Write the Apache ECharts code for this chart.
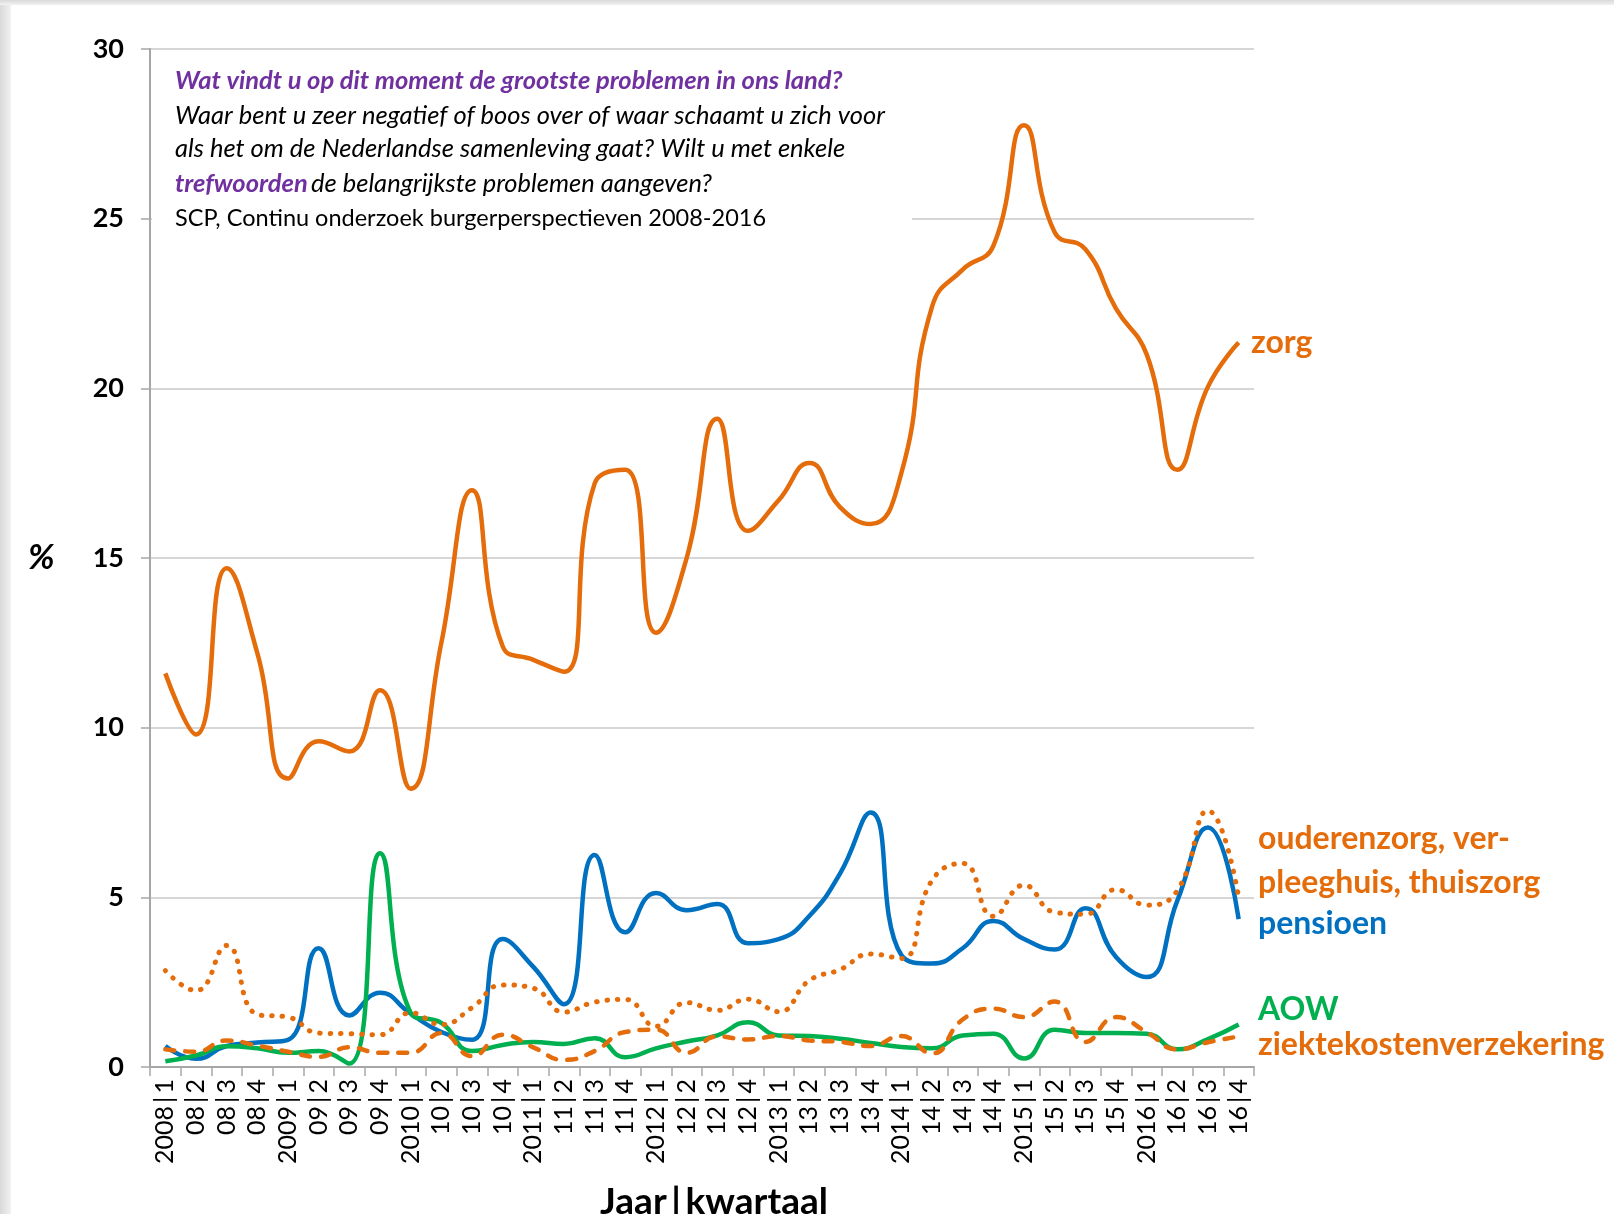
<!DOCTYPE html>
<html>
<head>
<meta charset="utf-8">
<script src="https://cdn.jsdelivr.net/npm/echarts@6/dist/echarts.min.js"></script>
<style>
html,body{margin:0;padding:0;background:#fff;}
#chart{width:1614px;height:1214px;}
</style>
</head>
<body>
<div id="chart"></div>
<script>
const categories = ['2008|1','08|2','08|3','08|4','2009|1','09|2','09|3','09|4','2010|1','10|2','10|3','10|4','2011|1','11|2','11|3','11|4','2012|1','12|2','12|3','12|4','2013|1','13|2','13|3','13|4','2014|1','14|2','14|3','14|4','2015|1','15|2','15|3','15|4','2016|1','16|2','16|3','16|4'];
const zorg = [11.6,9.8,14.7,12.2,8.5,9.6,9.3,11.1,8.2,12.5,17.0,12.4,12.0,11.65,17.2,17.6,12.8,15.0,19.1,15.8,16.7,17.8,16.5,16.0,17.5,22.4,23.5,24.2,27.75,24.6,24.1,22.35,21.0,17.6,20.05,21.35];
const ouderenzorg = [2.84,2.25,3.58,1.55,1.47,1.0,0.98,0.95,1.6,1.25,1.75,2.42,2.32,1.62,1.91,1.99,1.2,1.9,1.67,2.0,1.63,2.55,2.87,3.33,3.2,5.5,6.0,4.44,5.36,4.56,4.5,5.23,4.77,5.2,7.55,5.0];
const pensioen = [0.62,0.24,0.62,0.72,0.8,3.5,1.52,2.19,1.57,1.03,0.8,3.77,2.95,1.85,6.25,3.97,5.13,4.62,4.8,3.65,3.77,4.45,5.7,7.5,3.3,3.05,3.5,4.3,3.77,3.46,4.68,3.24,2.65,4.9,7.06,4.36];
const aow = [0.17,0.34,0.61,0.55,0.42,0.47,0.1,6.3,1.6,1.3,0.47,0.65,0.74,0.68,0.85,0.29,0.55,0.75,0.93,1.32,0.93,0.91,0.83,0.71,0.59,0.55,0.93,0.98,0.25,1.1,1.0,1.0,0.98,0.52,0.82,1.25];
const ziektekosten = [0.52,0.45,0.78,0.63,0.45,0.3,0.58,0.42,0.42,1.0,0.32,0.95,0.58,0.21,0.47,1.03,1.1,0.42,0.9,0.81,0.91,0.78,0.74,0.62,0.91,0.4,1.4,1.72,1.47,1.93,0.74,1.47,1.03,0.52,0.73,0.9];
const yTicks = {min:0, max:30, interval:5};

const ORANGE = '#E46C0A', BLUE = '#0070C0', GREEN = '#00B050', PURPLE = '#7030A0';
const FONT = 'Lato, "Open Sans", sans-serif';

const chart = echarts.init(document.getElementById('chart'), null, {renderer:'canvas'});
const T = (x, y, text, style) => ({type:'text', x, y, z:100, style:Object.assign({text, fontFamily:FONT, fill:'#000', textVerticalAlign:'middle'}, style)});

chart.setOption({
  backgroundColor:'#ffffff',
  animation:false,
  grid:{left:150, right:360, top:49, bottom:147, containLabel:false},
  xAxis:{
    type:'category', data:categories, boundaryGap:true,
    axisLine:{lineStyle:{color:'#a6a6a6', width:2}},
    axisTick:{show:true, interval:0, length:9, lineStyle:{color:'#a6a6a6', width:1.5}},
    axisLabel:{interval:0, rotate:90, margin:12, fontSize:25, color:'#000', fontFamily:FONT,
      formatter:v => v.replace('|', '\u2009|\u2009')},
    splitLine:{show:false}
  },
  yAxis:{
    type:'value', min:yTicks.min, max:yTicks.max, interval:yTicks.interval,
    axisLine:{show:true, lineStyle:{color:'#a6a6a6', width:2}},
    axisTick:{show:true, length:9, lineStyle:{color:'#a6a6a6', width:1.5}},
    axisLabel:{margin:26, fontSize:27, fontWeight:'bold', color:'#000', fontFamily:FONT},
    splitLine:{show:true, lineStyle:{color:'#c8c8c8', width:1.5}}
  },
  series:[
    {name:'zorg', type:'line', data:zorg, smooth:0.5, symbol:'none', lineStyle:{color:ORANGE, width:4.5}, z:2},
    {name:'pensioen', type:'line', data:pensioen, smooth:0.5, symbol:'none', lineStyle:{color:BLUE, width:4.5}, z:3},
    {name:'AOW', type:'line', data:aow, smooth:0.5, symbol:'none', lineStyle:{color:GREEN, width:4.5}, z:4},
    {name:'ouderenzorg', type:'line', data:ouderenzorg, smooth:0.5, symbol:'none', lineStyle:{color:ORANGE, width:5, type:[0.5,10], cap:'round'}, z:5},
    {name:'ziektekostenverzekering', type:'line', data:ziektekosten, smooth:0.5, symbol:'none', lineStyle:{color:ORANGE, width:4.5, type:[9,11], cap:'round'}, z:6}
  ],
  graphic:[
    {type:'rect', z:0, shape:{x:0, y:0, width:11, height:1214}, style:{fill:new echarts.graphic.LinearGradient(0,0,1,0,[{offset:0,color:'#d9d9d9'},{offset:1,color:'#f2f2f2'}])}},
    {type:'rect', z:0, shape:{x:0, y:0, width:1614, height:5}, style:{fill:new echarts.graphic.LinearGradient(0,0,0,1,[{offset:0,color:'#d9d9d9'},{offset:1,color:'#f2f2f2'}])}},
    {type:'rect', z:50, shape:{x:152, y:60, width:760, height:175}, style:{fill:'#ffffff'}},
    T(175, 81, 'Wat vindt u op dit moment de grootste problemen in ons land?', {fill:PURPLE, fontSize:25.5, fontWeight:'bold', fontStyle:'italic'}),
    T(175, 116, 'Waar bent u zeer negatief of boos over of waar schaamt u zich voor', {fontSize:25.5, fontStyle:'italic'}),
    T(175, 149, 'als het om de Nederlandse samenleving gaat? Wilt u met enkele', {fontSize:25.5, fontStyle:'italic'}),
    {type:'text', x:175, y:184, z:100, style:{text:'{p|trefwoorden} {b|de belangrijkste problemen aangeven?}', textVerticalAlign:'middle',
      rich:{p:{fill:PURPLE, fontSize:25.5, fontStyle:'italic', fontWeight:'bold', fontFamily:FONT}, b:{fill:'#000', fontSize:25.5, fontStyle:'italic', fontFamily:FONT}}}},
    T(175, 218, 'SCP, Continu onderzoek burgerperspectieven 2008-2016', {fontSize:23.5}),
    T(28, 558, '%', {fontSize:35, fontWeight:'bold', fontStyle:'italic'}),
    T(714, 1202, 'Jaar\u2009|\u2009kwartaal', {fontSize:37, fontWeight:'bold', textAlign:'center'}),
    T(1251, 343, 'zorg', {fill:ORANGE, fontSize:32, fontWeight:'bold'}),
    T(1258, 839, 'ouderenzorg, ver-', {fill:ORANGE, fontSize:32, fontWeight:'bold'}),
    T(1258, 883, 'pleeghuis, thuiszorg', {fill:ORANGE, fontSize:32, fontWeight:'bold'}),
    T(1258, 924, 'pensioen', {fill:BLUE, fontSize:32, fontWeight:'bold'}),
    T(1258, 1010, 'AOW', {fill:GREEN, fontSize:32, fontWeight:'bold'}),
    T(1258, 1045, 'ziektekostenverzekering', {fill:ORANGE, fontSize:32, fontWeight:'bold'})
  ]
});
</script>
</body>
</html>
